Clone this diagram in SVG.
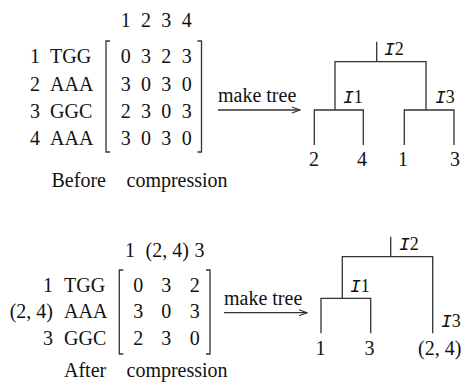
<svg xmlns="http://www.w3.org/2000/svg" width="462" height="385" viewBox="0 0 462 385" font-family="'Liberation Serif', 'Times New Roman', serif" font-size="20">
<defs>
<style>
text{font-family:'Liberation Serif','Times New Roman',serif;font-size:20px;fill:#111}
.m{text-anchor:middle}
.e{text-anchor:end}
.lbl{font-size:18px}
.I{font-family:'Liberation Mono','Courier New',monospace;font-style:italic}
.ln{stroke:#333;stroke-width:1.3;fill:none}
</style>
<marker id="ah" markerWidth="10" markerHeight="8" refX="9" refY="4" orient="auto" markerUnits="userSpaceOnUse">
<path d="M1,1 L9,4 L1,7" fill="none" stroke="#333" stroke-width="1.1"/>
</marker>
</defs>
<rect width="462" height="385" fill="#fff"/>

<g id="matrix-before">
<text class="m" x="125.7" y="27">1</text><text class="m" x="146" y="27">2</text><text class="m" x="166.3" y="27">3</text><text class="m" x="186.7" y="27">4</text>
<text x="30" y="63">1</text><text x="50" y="63">TGG</text>
<text x="30" y="90.5">2</text><text x="50" y="90.5">AAA</text>
<text x="30" y="118">3</text><text x="50" y="118">GGC</text>
<text x="30" y="145">4</text><text x="50" y="145">AAA</text>
<path class="ln" d="M110,41 H106 V152 H110 M197.5,41 H201.5 V152 H197.5"/>
<text class="m" x="125.7" y="63">0</text><text class="m" x="146" y="63">3</text><text class="m" x="166.3" y="63">2</text><text class="m" x="186.7" y="63">3</text>
<text class="m" x="125.7" y="90.5">3</text><text class="m" x="146" y="90.5">0</text><text class="m" x="166.3" y="90.5">3</text><text class="m" x="186.7" y="90.5">0</text>
<text class="m" x="125.7" y="118">2</text><text class="m" x="146" y="118">3</text><text class="m" x="166.3" y="118">0</text><text class="m" x="186.7" y="118">3</text>
<text class="m" x="125.7" y="145">3</text><text class="m" x="146" y="145">0</text><text class="m" x="166.3" y="145">3</text><text class="m" x="186.7" y="145">0</text>
<text x="51.5" y="186.7">Before</text><text x="126.5" y="186.7">compression</text>
</g>

<g id="tree-before">
<path class="ln" d="M376.7,41.7 V61.7 M335,110 V61.7 H426 V110 M314.3,145 V110 H363.3 V145 M404.3,145 V110 H454 V145"/>
<text class="lbl" x="384" y="55"><tspan class="I">I</tspan>2</text>
<text class="lbl" x="343" y="103"><tspan class="I">I</tspan>1</text>
<text class="lbl" x="435" y="103"><tspan class="I">I</tspan>3</text>
<text class="m" x="314" y="165.7">2</text><text class="m" x="362" y="165.7">4</text><text class="m" x="403" y="165.7">1</text><text class="m" x="455" y="165.7">3</text>
</g>

<g id="matrix-after">
<text class="m" x="130" y="256.7">1</text><text x="145.5" y="256.7">(2, 4)</text><text class="m" x="199.5" y="256.7">3</text>
<text class="e" x="53" y="291.7">1</text><text x="64" y="291.7">TGG</text>
<text class="e" x="53" y="318.3">(2, 4)</text><text x="64" y="318.3">AAA</text>
<text class="e" x="53" y="345">3</text><text x="64" y="345">GGC</text>
<path class="ln" d="M123.3,270 H119.3 V354 H123.3 M206,270 H210 V354 H206"/>
<text class="m" x="138.3" y="291.7">0</text><text class="m" x="166.3" y="291.7">3</text><text class="m" x="194.7" y="291.7">2</text>
<text class="m" x="138.3" y="318.3">3</text><text class="m" x="166.3" y="318.3">0</text><text class="m" x="194.7" y="318.3">3</text>
<text class="m" x="138.3" y="345">2</text><text class="m" x="166.3" y="345">3</text><text class="m" x="194.7" y="345">0</text>
<text x="64" y="377">After</text><text x="126.5" y="377">compression</text>
</g>

<g id="tree-after">
<path class="ln" d="M390.7,236.7 V256.7 M342.3,298.3 V256.7 H432.7 V333.3 M321,333.3 V298.3 H370.7 V333.3"/>
<text class="lbl" x="399" y="250"><tspan class="I">I</tspan>2</text>
<text class="lbl" x="350" y="291.7"><tspan class="I">I</tspan>1</text>
<text class="lbl" x="441" y="326.7"><tspan class="I">I</tspan>3</text>
<text class="m" x="320.5" y="355">1</text><text class="m" x="369.5" y="355">3</text><text x="418" y="355">(2, 4)</text>
</g>

<g id="connectors">
<text x="218" y="102.3">make tree</text>
<line class="ln" x1="218" y1="110" x2="300" y2="110" marker-end="url(#ah)"/>
<text x="224" y="305">make tree</text>
<line class="ln" x1="224" y1="312.7" x2="307" y2="312.7" marker-end="url(#ah)"/>
</g>
</svg>
